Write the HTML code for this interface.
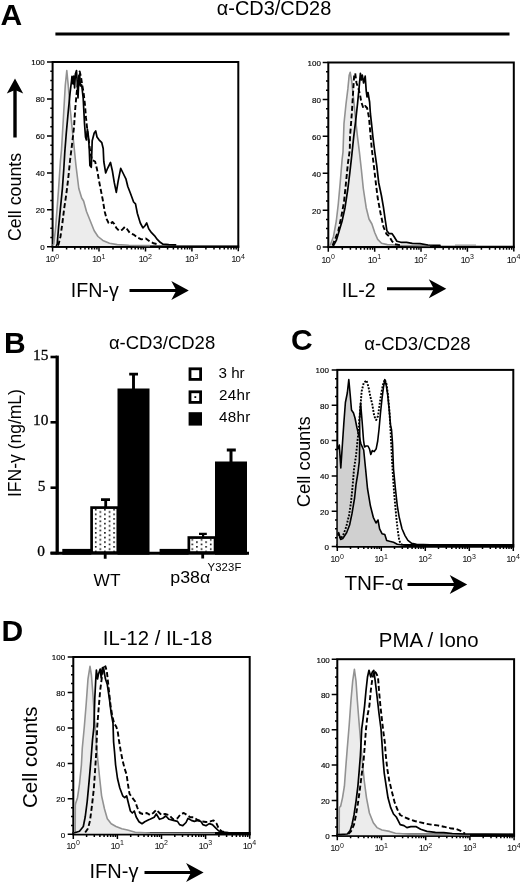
<!DOCTYPE html>
<html><head><meta charset="utf-8"><title>Figure</title>
<style>
html,body{margin:0;padding:0;background:#fff;}
svg{display:block;font-family:"Liberation Sans", sans-serif;}
text{font-family:"Liberation Sans", sans-serif;}
.b{font-weight:bold;font-size:30px;}
.ser{font-family:"Liberation Serif", serif;}
</style></head><body>
<svg width="520" height="882" viewBox="0 0 520 882">
<rect width="520" height="882" fill="#fff"/>
<defs><filter id="soft" x="0" y="0" width="520" height="882" filterUnits="userSpaceOnUse"><feGaussianBlur stdDeviation="0.4"/></filter></defs>
<g filter="url(#soft)">
<text class="b" x="0.6" y="24.5">A</text>
<text x="216.8" y="14.9" font-size="19.5" textLength="114.5" lengthAdjust="spacingAndGlyphs">α-CD3/CD28</text>
<path d="M55.4 34.1H509.5" stroke="#000" stroke-width="3"/>
<rect x="52.6" y="62.0" width="185.70000000000002" height="184.8" fill="none" stroke="#000" stroke-width="2.0"/>
<path d="M51.7 246.60H239.20000000000002" stroke="#000" stroke-width="2.4"/>
<path d="M47.0 246.8H52.6M50.3 237.6H52.6M50.3 228.3H52.6M50.3 219.1H52.6M47.0 209.8H52.6M50.3 200.6H52.6M50.3 191.4H52.6M50.3 182.1H52.6M47.0 172.9H52.6M50.3 163.6H52.6M50.3 154.4H52.6M50.3 145.2H52.6M47.0 135.9H52.6M50.3 126.7H52.6M50.3 117.4H52.6M50.3 108.2H52.6M47.0 99.0H52.6M50.3 89.7H52.6M50.3 80.5H52.6M50.3 71.2H52.6M47.0 62.0H52.6" stroke="#000" stroke-width="1.5" fill="none"/>
<path d="M52.6 246.8V251.4M66.6 246.8V249.4M74.8 246.8V249.4M80.6 246.8V249.4M85.0 246.8V249.4M88.7 246.8V249.4M91.8 246.8V249.4M94.5 246.8V249.4M96.9 246.8V249.4M99.0 246.8V251.4M113.0 246.8V249.4M121.2 246.8V249.4M127.0 246.8V249.4M131.5 246.8V249.4M135.2 246.8V249.4M138.3 246.8V249.4M141.0 246.8V249.4M143.3 246.8V249.4M145.5 246.8V251.4M159.4 246.8V249.4M167.6 246.8V249.4M173.4 246.8V249.4M177.9 246.8V249.4M181.6 246.8V249.4M184.7 246.8V249.4M187.4 246.8V249.4M189.8 246.8V249.4M191.9 246.8V251.4M205.9 246.8V249.4M214.0 246.8V249.4M219.8 246.8V249.4M224.3 246.8V249.4M228.0 246.8V249.4M231.1 246.8V249.4M233.8 246.8V249.4M236.2 246.8V249.4M238.3 246.8V251.3" stroke="#000" stroke-width="1.5" fill="none"/>
<text x="44.6" y="250.1" text-anchor="end" font-size="8" fill="#000" stroke="#000" stroke-width="0.15">0</text>
<text x="44.6" y="213.1" text-anchor="end" font-size="8" fill="#000" stroke="#000" stroke-width="0.15">20</text>
<text x="44.6" y="176.2" text-anchor="end" font-size="8" fill="#000" stroke="#000" stroke-width="0.15">40</text>
<text x="44.6" y="139.2" text-anchor="end" font-size="8" fill="#000" stroke="#000" stroke-width="0.15">60</text>
<text x="44.6" y="102.3" text-anchor="end" font-size="8" fill="#000" stroke="#000" stroke-width="0.15">80</text>
<text x="44.6" y="65.3" text-anchor="end" font-size="8" fill="#000" stroke="#000" stroke-width="0.15">100</text>
<text x="45.6" y="262.4" font-size="9.5" letter-spacing="-1" fill="#111">10<tspan font-size="7" dx="1.0" dy="-3.6">0</tspan></text>
<text x="92.0" y="262.4" font-size="9.5" letter-spacing="-1" fill="#111">10<tspan font-size="7" dx="1.0" dy="-3.6">1</tspan></text>
<text x="138.5" y="262.4" font-size="9.5" letter-spacing="-1" fill="#111">10<tspan font-size="7" dx="1.0" dy="-3.6">2</tspan></text>
<text x="184.9" y="262.4" font-size="9.5" letter-spacing="-1" fill="#111">10<tspan font-size="7" dx="1.0" dy="-3.6">3</tspan></text>
<text x="231.3" y="262.4" font-size="9.5" letter-spacing="-1" fill="#111">10<tspan font-size="7" dx="1.0" dy="-3.6">4</tspan></text>
<polygon points="52.8,246.0 52.8,245.5 53.8,244.0 55.7,227.0 58.6,188.5 60.5,160.0 61.5,150.0 63.4,117.7 65.3,85.0 66.8,70.6 68.2,85.0 70.1,108.0 72.0,127.0 74.0,146.0 75.9,165.0 78.8,188.5 81.7,198.0 83.6,201.0 86.5,211.5 90.3,221.0 94.2,230.8 98.0,236.5 102.8,240.4 109.5,243.3 117.2,244.6 128.8,245.2 150.0,245.6 150.0,246.0" fill="#ececec" stroke="none"/><polyline points="52.8,245.5 53.8,244.0 55.7,227.0 58.6,188.5 60.5,160.0 61.5,150.0 63.4,117.7 65.3,85.0 66.8,70.6 68.2,85.0 70.1,108.0 72.0,127.0 74.0,146.0 75.9,165.0 78.8,188.5 81.7,198.0 83.6,201.0 86.5,211.5 90.3,221.0 94.2,230.8 98.0,236.5 102.8,240.4 109.5,243.3 117.2,244.6 128.8,245.2 150.0,245.6" fill="none" stroke="#929292" stroke-width="1.6" stroke-linejoin="round"/>
<polyline points="56.5,245.5 57.2,244.2 58.6,227.0 60.5,207.7 62.4,188.5 63.8,169.0 64.8,152.0 66.3,133.0 68.2,112.0 70.1,92.7 71.5,81.0 72.0,76.3 73.0,84.0 73.8,76.0 74.6,88.0 75.4,74.0 76.5,70.6 77.2,82.0 78.0,98.0 78.8,80.0 79.6,74.0 80.4,86.0 81.7,85.0 83.2,98.5 84.5,123.5 85.5,137.0 86.4,140.0 87.4,129.0 88.5,137.0 89.3,150.0 89.9,165.4 91.3,167.3 92.2,140.8 94.2,133.0 95.7,131.0 97.0,137.0 99.0,139.8 101.8,142.7 103.2,148.5 103.8,161.5 105.7,173.0 107.6,168.3 110.5,162.5 112.4,171.0 114.3,182.7 116.3,192.3 118.2,180.8 120.7,168.3 123.0,173.0 125.9,178.8 127.8,186.5 130.7,194.0 133.6,202.0 135.5,203.8 137.4,213.5 140.3,223.0 142.9,227.9 144.8,226.0 146.7,223.0 148.7,228.8 151.5,232.7 154.4,235.6 157.3,239.4 160.2,242.3 163.0,244.2 168.8,244.6 175.6,244.8" fill="none" stroke="#000" stroke-width="1.7" stroke-linejoin="round" stroke-linecap="round"/>
<polyline points="58.0,245.5 58.6,244.2 60.5,236.5 62.4,223.0 64.3,207.7 66.3,194.2 68.2,178.8 70.1,160.0 72.0,144.6 74.0,127.3 75.3,108.0 76.5,94.6 78.0,82.0 79.7,71.5 81.0,77.0 82.2,85.0 83.6,92.7 84.9,104.0 86.0,117.7 87.4,131.0 88.8,140.8 90.3,152.0 92.0,160.0 95.1,161.5 97.0,169.2 99.0,180.8 100.9,190.4 102.8,200.0 104.7,211.5 106.7,219.2 108.6,223.0 110.5,224.0 112.4,222.0 114.3,224.0 116.3,227.9 119.2,230.8 122.0,229.8 124.9,226.9 126.8,228.8 129.7,232.7 133.6,234.6 137.4,237.5 141.3,239.4 145.8,238.5 149.6,241.3 153.5,243.3 159.2,244.5" fill="none" stroke="#000" stroke-width="1.9" stroke-dasharray="5 2.6" stroke-linejoin="round"/>
<path d="M15 137.5V89.1" stroke="#000" stroke-width="3.4" fill="none"/><path d="M15 78.6L6.800000000000001 93.6L15 90.1L23.2 93.6Z" fill="#000"/>
<text transform="translate(21.3,241) rotate(-90)" font-size="17.6" textLength="88.2" lengthAdjust="spacingAndGlyphs">Cell counts</text>
<text x="70.8" y="296.5" font-size="19.6">IFN-γ</text>
<path d="M129.5 290.4H177.3" stroke="#000" stroke-width="3.0" fill="none"/><path d="M188.8 290.4L171.3 280.9L176.3 290.4L171.3 299.9Z" fill="#000"/>
<rect x="328.3" y="62.5" width="185.49999999999994" height="184.6" fill="none" stroke="#000" stroke-width="2.0"/>
<path d="M327.40000000000003 246.90H514.6999999999999" stroke="#000" stroke-width="2.4"/>
<path d="M322.7 247.1H328.3M326.0 237.9H328.3M326.0 228.6H328.3M326.0 219.4H328.3M322.7 210.2H328.3M326.0 200.9H328.3M326.0 191.7H328.3M326.0 182.5H328.3M322.7 173.3H328.3M326.0 164.0H328.3M326.0 154.8H328.3M326.0 145.6H328.3M322.7 136.3H328.3M326.0 127.1H328.3M326.0 117.9H328.3M326.0 108.7H328.3M322.7 99.4H328.3M326.0 90.2H328.3M326.0 81.0H328.3M326.0 71.7H328.3M322.7 62.5H328.3" stroke="#000" stroke-width="1.5" fill="none"/>
<path d="M328.3 247.1V251.7M342.3 247.1V249.7M350.4 247.1V249.7M356.2 247.1V249.7M360.7 247.1V249.7M364.4 247.1V249.7M367.5 247.1V249.7M370.2 247.1V249.7M372.6 247.1V249.7M374.7 247.1V251.7M388.6 247.1V249.7M396.8 247.1V249.7M402.6 247.1V249.7M407.1 247.1V249.7M410.8 247.1V249.7M413.9 247.1V249.7M416.6 247.1V249.7M418.9 247.1V249.7M421.0 247.1V251.7M435.0 247.1V249.7M443.2 247.1V249.7M449.0 247.1V249.7M453.5 247.1V249.7M457.1 247.1V249.7M460.2 247.1V249.7M462.9 247.1V249.7M465.3 247.1V249.7M467.4 247.1V251.7M481.4 247.1V249.7M489.6 247.1V249.7M495.3 247.1V249.7M499.8 247.1V249.7M503.5 247.1V249.7M506.6 247.1V249.7M509.3 247.1V249.7M511.7 247.1V249.7M513.8 247.1V251.6" stroke="#000" stroke-width="1.5" fill="none"/>
<text x="320.9" y="250.4" text-anchor="end" font-size="8" fill="#000" stroke="#000" stroke-width="0.15">0</text>
<text x="320.9" y="213.5" text-anchor="end" font-size="8" fill="#000" stroke="#000" stroke-width="0.15">20</text>
<text x="320.9" y="176.6" text-anchor="end" font-size="8" fill="#000" stroke="#000" stroke-width="0.15">40</text>
<text x="320.9" y="139.6" text-anchor="end" font-size="8" fill="#000" stroke="#000" stroke-width="0.15">60</text>
<text x="320.9" y="102.7" text-anchor="end" font-size="8" fill="#000" stroke="#000" stroke-width="0.15">80</text>
<text x="320.9" y="65.8" text-anchor="end" font-size="8" fill="#000" stroke="#000" stroke-width="0.15">100</text>
<text x="321.3" y="262.7" font-size="9.5" letter-spacing="-1" fill="#111">10<tspan font-size="7" dx="1.0" dy="-3.6">0</tspan></text>
<text x="367.7" y="262.7" font-size="9.5" letter-spacing="-1" fill="#111">10<tspan font-size="7" dx="1.0" dy="-3.6">1</tspan></text>
<text x="414.0" y="262.7" font-size="9.5" letter-spacing="-1" fill="#111">10<tspan font-size="7" dx="1.0" dy="-3.6">2</tspan></text>
<text x="460.4" y="262.7" font-size="9.5" letter-spacing="-1" fill="#111">10<tspan font-size="7" dx="1.0" dy="-3.6">3</tspan></text>
<text x="506.8" y="262.7" font-size="9.5" letter-spacing="-1" fill="#111">10<tspan font-size="7" dx="1.0" dy="-3.6">4</tspan></text>
<polygon points="329.3,246.0 329.3,245.6 330.6,244.2 333.5,236.5 336.3,221.0 338.3,203.8 340.2,182.7 342.1,159.6 343.0,152.0 344.0,123.3 346.0,104.0 347.9,88.7 349.2,75.2 350.2,72.3 351.7,81.0 353.7,100.2 355.6,119.5 357.5,136.8 359.4,152.0 361.3,169.0 363.3,188.5 366.2,207.7 369.0,219.0 371.9,224.0 374.8,232.7 377.7,239.4 381.5,243.3 387.3,244.6 400.0,245.3 430.0,245.6 430.0,246.0" fill="#ececec" stroke="none"/><polyline points="329.3,245.6 330.6,244.2 333.5,236.5 336.3,221.0 338.3,203.8 340.2,182.7 342.1,159.6 343.0,152.0 344.0,123.3 346.0,104.0 347.9,88.7 349.2,75.2 350.2,72.3 351.7,81.0 353.7,100.2 355.6,119.5 357.5,136.8 359.4,152.0 361.3,169.0 363.3,188.5 366.2,207.7 369.0,219.0 371.9,224.0 374.8,232.7 377.7,239.4 381.5,243.3 387.3,244.6 400.0,245.3 430.0,245.6" fill="none" stroke="#929292" stroke-width="1.6" stroke-linejoin="round"/>
<path d="M455 245.2H476" stroke="#9b9b9b" stroke-width="1.4"/>
<polyline points="333.5,245.6 336.3,240.4 339.2,230.8 342.1,221.0 345.0,207.7 347.9,188.5 349.8,173.0 351.7,156.0 353.7,136.8 355.6,121.4 357.5,104.0 359.0,88.7 360.4,73.3 361.3,80.0 362.3,75.2 363.6,83.0 365.2,76.2 366.2,90.6 367.0,97.0 368.0,92.5 369.6,102.0 370.4,113.7 371.5,123.3 372.9,136.8 374.8,152.0 376.7,165.4 378.7,182.7 381.5,196.0 383.5,207.7 385.4,221.0 386.9,230.8 389.2,233.7 392.1,233.7 394.0,236.5 396.9,241.3 400.8,242.3 406.5,242.3 412.3,243.3 420.0,243.7 428.0,245.0 440.0,245.4" fill="none" stroke="#000" stroke-width="1.7" stroke-linejoin="round" stroke-linecap="round"/>
<polyline points="332.5,245.6 335.5,238.0 338.3,230.8 341.2,217.3 344.0,202.0 346.0,182.7 347.9,163.5 349.8,150.0 350.0,136.8 351.8,113.7 353.2,90.6 354.2,75.2 355.2,73.3 356.5,83.0 358.5,88.7 360.0,94.5 361.3,102.0 363.3,108.0 365.2,106.0 367.1,108.0 369.0,117.5 370.5,135.0 371.9,150.0 373.8,165.4 375.8,182.7 377.7,198.0 380.6,213.5 383.5,227.0 386.3,233.7 389.2,236.5 392.1,241.3 395.0,244.2 400.0,245.2" fill="none" stroke="#000" stroke-width="1.9" stroke-dasharray="5 2.6" stroke-linejoin="round"/>
<text x="341.8" y="297" font-size="19.6">IL-2</text>
<path d="M387 288.8H434.8" stroke="#000" stroke-width="3.0" fill="none"/><path d="M446.3 288.8L428.8 279.3L433.8 288.8L428.8 298.3Z" fill="#000"/>
<text class="b" x="4.1" y="353">B</text>
<text x="108.9" y="349.2" font-size="18.5">α-CD3/CD28</text>
<path d="M57.2 355.6V554.4" stroke="#000" stroke-width="3.3"/>
<path d="M50.5 553.2H249" stroke="#000" stroke-width="3.1"/>
<path d="M50.5 357H57" stroke="#000" stroke-width="2.6"/>
<text class="ser" x="48.5" y="359.9" text-anchor="end" font-size="15.4" stroke="#000" stroke-width="0.3">15</text>
<path d="M50.5 422.3H57" stroke="#000" stroke-width="2.6"/>
<text class="ser" x="48.5" y="425.2" text-anchor="end" font-size="15.4" stroke="#000" stroke-width="0.3">10</text>
<path d="M50.5 487.7H57" stroke="#000" stroke-width="2.6"/>
<text class="ser" x="45.4" y="490.6" text-anchor="end" font-size="15.4" stroke="#000" stroke-width="0.3">5</text>
<path d="M50.5 553H57" stroke="#000" stroke-width="2.6"/>
<text class="ser" x="45" y="555.9" text-anchor="end" font-size="15.4" stroke="#000" stroke-width="0.3">0</text>
<path d="M105.2 553V558.7M202.7 553V558.6" stroke="#000" stroke-width="2.8"/>
<defs><pattern id="dots" x="94.9" y="513.5" width="9.2" height="4.64" patternUnits="userSpaceOnUse"><rect width="9.2" height="4.64" fill="#fff"/><rect x="0" y="0" width="1.6" height="1.6" fill="#111"/><rect x="4.6" y="2.32" width="1.6" height="1.6" fill="#111"/></pattern></defs>
<rect x="62.3" y="548.9" width="29" height="5.8" fill="#000"/>
<rect x="91.6" y="507.6" width="26.2" height="45" fill="url(#dots)" stroke="#000" stroke-width="2.7"/>
<path d="M105.7 507V499.5M101 499.7H110" stroke="#000" stroke-width="2.8" fill="none"/>
<rect x="117.5" y="388.5" width="32" height="166.2" fill="#000"/>
<path d="M133.5 389V374M129.2 374.1H138" stroke="#000" stroke-width="2.9" fill="none"/>
<rect x="159.6" y="548.9" width="29" height="5.8" fill="#000"/>
<rect x="188.85" y="537.55" width="26.2" height="15" fill="url(#dots)" stroke="#000" stroke-width="2.7"/>
<path d="M203.1 537V534M199 533.8H206.8" stroke="#000" stroke-width="2.2" fill="none"/>
<rect x="215" y="461.5" width="32" height="93.2" fill="#000"/>
<path d="M231 462V450M226.8 450H235.8" stroke="#000" stroke-width="3" fill="none"/>
<rect x="190" y="368.8" width="10.6" height="10.6" fill="#fff" stroke="#000" stroke-width="2.8"/>
<rect x="190" y="391.8" width="10.6" height="10.6" fill="#fff" stroke="#000" stroke-width="2.8"/>
<rect x="194.4" y="396.2" width="1.8" height="1.8" fill="#000"/>
<rect x="188.6" y="412.2" width="13.4" height="13.4" fill="#000"/>
<text x="218.5" y="378" font-size="15.2">3 hr</text>
<text x="219" y="400" font-size="15.2" textLength="31.3" lengthAdjust="spacing">24hr</text>
<text x="219" y="421.8" font-size="15.2" textLength="31.3" lengthAdjust="spacing">48hr</text>
<text transform="translate(21,497) rotate(-90)" font-size="17.5">IFN-γ (ng/mL)</text>
<text x="93.6" y="585.8" font-size="17.3">WT</text>
<text x="170.3" y="583.2" font-size="17" textLength="40" lengthAdjust="spacingAndGlyphs">p38α</text>
<text x="207.6" y="571" font-size="11.3" letter-spacing="0.1">Y323F</text>
<text class="b" x="291.1" y="350">C</text>
<text x="364.3" y="349.6" font-size="18.5">α-CD3/CD28</text>
<rect x="337.3" y="369.9" width="175.99999999999994" height="176.60000000000002" fill="none" stroke="#000" stroke-width="2.0"/>
<path d="M336.40000000000003 545.70H514.1999999999999" stroke="#000" stroke-width="3.6"/>
<path d="M331.7 546.5H337.3M335.0 537.7H337.3M335.0 528.8H337.3M335.0 520.0H337.3M331.7 511.2H337.3M335.0 502.4H337.3M335.0 493.5H337.3M335.0 484.7H337.3M331.7 475.9H337.3M335.0 467.0H337.3M335.0 458.2H337.3M335.0 449.4H337.3M331.7 440.5H337.3M335.0 431.7H337.3M335.0 422.9H337.3M335.0 414.0H337.3M331.7 405.2H337.3M335.0 396.4H337.3M335.0 387.6H337.3M335.0 378.7H337.3M331.7 369.9H337.3" stroke="#000" stroke-width="1.5" fill="none"/>
<path d="M337.3 546.5V551.1M350.5 546.5V549.1M358.3 546.5V549.1M363.8 546.5V549.1M368.1 546.5V549.1M371.5 546.5V549.1M374.5 546.5V549.1M377.0 546.5V549.1M379.3 546.5V549.1M381.3 546.5V551.1M394.5 546.5V549.1M402.3 546.5V549.1M407.8 546.5V549.1M412.1 546.5V549.1M415.5 546.5V549.1M418.5 546.5V549.1M421.0 546.5V549.1M423.3 546.5V549.1M425.3 546.5V551.1M438.5 546.5V549.1M446.3 546.5V549.1M451.8 546.5V549.1M456.1 546.5V549.1M459.5 546.5V549.1M462.5 546.5V549.1M465.0 546.5V549.1M467.3 546.5V549.1M469.3 546.5V551.1M482.5 546.5V549.1M490.3 546.5V549.1M495.8 546.5V549.1M500.1 546.5V549.1M503.5 546.5V549.1M506.5 546.5V549.1M509.0 546.5V549.1M511.3 546.5V549.1M513.3 546.5V551.0" stroke="#000" stroke-width="1.5" fill="none"/>
<text x="328.9" y="549.8" text-anchor="end" font-size="8" fill="#000" stroke="#000" stroke-width="0.15">0</text>
<text x="328.9" y="514.5" text-anchor="end" font-size="8" fill="#000" stroke="#000" stroke-width="0.15">20</text>
<text x="328.9" y="479.2" text-anchor="end" font-size="8" fill="#000" stroke="#000" stroke-width="0.15">40</text>
<text x="328.9" y="443.8" text-anchor="end" font-size="8" fill="#000" stroke="#000" stroke-width="0.15">60</text>
<text x="328.9" y="408.5" text-anchor="end" font-size="8" fill="#000" stroke="#000" stroke-width="0.15">80</text>
<text x="328.9" y="373.2" text-anchor="end" font-size="8" fill="#000" stroke="#000" stroke-width="0.15">100</text>
<text x="330.3" y="562.1" font-size="9.5" letter-spacing="-1" fill="#111">10<tspan font-size="7" dx="1.0" dy="-3.6">0</tspan></text>
<text x="374.3" y="562.1" font-size="9.5" letter-spacing="-1" fill="#111">10<tspan font-size="7" dx="1.0" dy="-3.6">1</tspan></text>
<text x="418.3" y="562.1" font-size="9.5" letter-spacing="-1" fill="#111">10<tspan font-size="7" dx="1.0" dy="-3.6">2</tspan></text>
<text x="462.3" y="562.1" font-size="9.5" letter-spacing="-1" fill="#111">10<tspan font-size="7" dx="1.0" dy="-3.6">3</tspan></text>
<text x="506.3" y="562.1" font-size="9.5" letter-spacing="-1" fill="#111">10<tspan font-size="7" dx="1.0" dy="-3.6">4</tspan></text>
<polygon points="337.8,546.0 337.8,449.0 339.3,445.0 340.8,468.0 342.5,443.0 343.8,423.7 345.4,402.5 347.3,393.0 348.8,379.5 350.2,394.8 351.5,410.0 353.5,413.0 355.0,418.0 356.9,427.5 358.8,435.0 361.0,444.0 363.7,450.0 365.6,469.0 367.5,488.5 370.4,505.8 373.3,517.3 376.0,523.0 378.0,520.0 379.6,528.8 382.0,533.7 384.8,534.6 386.7,540.4 389.6,541.3 393.5,542.3 397.3,544.2 405.0,545.3 405.0,546.0" fill="#d0d0d0"/>
<polyline points="337.8,449.0 339.3,445.0 340.8,468.0 342.5,443.0 343.8,423.7 345.4,402.5 347.3,393.0 348.8,379.5 350.2,394.8 351.5,410.0 353.5,413.0 355.0,418.0 356.9,427.5 358.8,435.0 361.0,444.0 363.7,450.0 365.6,469.0 367.5,488.5 370.4,505.8 373.3,517.3 376.0,523.0 378.0,520.0 379.6,528.8 382.0,533.7 384.8,534.6 386.7,540.4 389.6,541.3 393.5,542.3 397.3,544.2 405.0,545.3" fill="none" stroke="#000" stroke-width="1.6" stroke-linejoin="round" stroke-linecap="round"/>
<polyline points="337.8,534.0 338.7,532.7 340.6,539.4 342.8,538.5 346.6,532.7 349.6,525.0 352.0,513.5 354.6,498.0 356.0,484.6 357.9,473.0 359.3,461.5 359.8,440.0 359.6,420.0 360.6,403.0 362.0,420.0 363.5,440.0 364.5,447.0 366.0,446.0 368.0,446.0 369.5,449.0 370.8,454.5 372.3,450.6 374.2,451.6 376.2,448.7 377.7,441.0 379.0,429.5 380.4,414.0 382.0,398.7 383.5,387.0 384.8,379.5 386.2,385.0 387.7,395.0 389.2,410.0 390.6,425.6 391.5,429.5 392.5,443.0 393.5,469.0 395.4,488.5 397.3,505.8 399.2,517.3 402.0,528.8 405.0,535.6 407.9,540.4 411.7,543.3 416.5,544.2 430.0,544.8 512.0,545.0" fill="none" stroke="#000" stroke-width="1.6" stroke-linejoin="round" stroke-linecap="round"/>
<polyline points="337.8,535.5 338.7,534.6 340.6,538.5 343.0,535.6 346.2,527.0 349.0,515.4 350.8,503.8 352.4,488.5 354.0,469.0 356.0,455.8 357.9,437.0 359.8,414.0 361.7,391.0 363.7,383.0 366.5,380.4 368.5,387.0 370.4,396.8 372.3,404.5 374.2,416.0 376.2,420.0 378.0,416.0 379.6,404.5 381.0,395.0 382.9,385.0 384.8,379.5 386.5,384.0 388.0,395.0 389.5,412.0 390.5,430.0 391.5,450.0 392.5,469.0 393.8,488.5 395.4,507.7 397.3,527.0 399.2,540.4 401.0,544.2 404.0,545.0" fill="none" stroke="#000" stroke-width="1.9" stroke-dasharray="1.9 1.4" stroke-linejoin="round"/>
<text transform="translate(310,507.2) rotate(-90)" font-size="17.6" textLength="90.8" lengthAdjust="spacingAndGlyphs">Cell counts</text>
<text x="344.5" y="590.3" font-size="20.5" textLength="59" lengthAdjust="spacingAndGlyphs">TNF-α</text>
<path d="M407.5 584.6H455.7" stroke="#000" stroke-width="3.0" fill="none"/><path d="M467.2 584.6L449.7 575.1L454.7 584.6L449.7 594.1Z" fill="#000"/>
<text class="b" x="1.6" y="641.2">D</text>
<text x="102.8" y="644.8" font-size="20.3">IL-12 / IL-18</text>
<rect x="73.3" y="657" width="176.39999999999998" height="177.29999999999995" fill="none" stroke="#000" stroke-width="2.0"/>
<path d="M72.39999999999999 833.60H250.6" stroke="#000" stroke-width="3.4"/>
<path d="M67.7 834.3H73.3M71.0 825.4H73.3M71.0 816.6H73.3M71.0 807.7H73.3M67.7 798.8H73.3M71.0 790.0H73.3M71.0 781.1H73.3M71.0 772.2H73.3M67.7 763.4H73.3M71.0 754.5H73.3M71.0 745.6H73.3M71.0 736.8H73.3M67.7 727.9H73.3M71.0 719.1H73.3M71.0 710.2H73.3M71.0 701.3H73.3M67.7 692.5H73.3M71.0 683.6H73.3M71.0 674.7H73.3M71.0 665.9H73.3M67.7 657.0H73.3" stroke="#000" stroke-width="1.5" fill="none"/>
<path d="M73.3 834.3V838.9M86.6 834.3V836.9M94.3 834.3V836.9M99.9 834.3V836.9M104.1 834.3V836.9M107.6 834.3V836.9M110.6 834.3V836.9M113.1 834.3V836.9M115.4 834.3V836.9M117.4 834.3V838.9M130.7 834.3V836.9M138.4 834.3V836.9M144.0 834.3V836.9M148.2 834.3V836.9M151.7 834.3V836.9M154.7 834.3V836.9M157.2 834.3V836.9M159.5 834.3V836.9M161.5 834.3V838.9M174.8 834.3V836.9M182.5 834.3V836.9M188.1 834.3V836.9M192.3 834.3V836.9M195.8 834.3V836.9M198.8 834.3V836.9M201.3 834.3V836.9M203.6 834.3V836.9M205.6 834.3V838.9M218.9 834.3V836.9M226.6 834.3V836.9M232.2 834.3V836.9M236.4 834.3V836.9M239.9 834.3V836.9M242.9 834.3V836.9M245.4 834.3V836.9M247.7 834.3V836.9M249.7 834.3V838.8" stroke="#000" stroke-width="1.5" fill="none"/>
<text x="65.1" y="837.6" text-anchor="end" font-size="8" fill="#000" stroke="#000" stroke-width="0.15">0</text>
<text x="65.1" y="802.1" text-anchor="end" font-size="8" fill="#000" stroke="#000" stroke-width="0.15">20</text>
<text x="65.1" y="766.7" text-anchor="end" font-size="8" fill="#000" stroke="#000" stroke-width="0.15">40</text>
<text x="65.1" y="731.2" text-anchor="end" font-size="8" fill="#000" stroke="#000" stroke-width="0.15">60</text>
<text x="65.1" y="695.8" text-anchor="end" font-size="8" fill="#000" stroke="#000" stroke-width="0.15">80</text>
<text x="65.1" y="660.3" text-anchor="end" font-size="8" fill="#000" stroke="#000" stroke-width="0.15">100</text>
<text x="66.3" y="848.6" font-size="9.5" letter-spacing="-1" fill="#111">10<tspan font-size="7" dx="1.0" dy="-3.6">0</tspan></text>
<text x="110.4" y="848.6" font-size="9.5" letter-spacing="-1" fill="#111">10<tspan font-size="7" dx="1.0" dy="-3.6">1</tspan></text>
<text x="154.5" y="848.6" font-size="9.5" letter-spacing="-1" fill="#111">10<tspan font-size="7" dx="1.0" dy="-3.6">2</tspan></text>
<text x="198.6" y="848.6" font-size="9.5" letter-spacing="-1" fill="#111">10<tspan font-size="7" dx="1.0" dy="-3.6">3</tspan></text>
<text x="242.7" y="848.6" font-size="9.5" letter-spacing="-1" fill="#111">10<tspan font-size="7" dx="1.0" dy="-3.6">4</tspan></text>
<polygon points="74.0,833.8 74.0,833.0 75.2,832.0 75.3,805.4 75.6,803.5 77.5,797.7 79.5,784.0 81.4,765.0 82.3,748.0 84.3,727.0 86.2,703.8 88.0,678.8 90.0,666.3 91.4,675.0 92.9,694.0 94.5,717.3 95.8,736.5 97.7,759.0 99.7,778.5 101.6,795.8 104.5,809.0 107.3,818.8 111.2,823.7 116.0,826.5 121.8,828.8 127.5,830.0 135.2,832.3 150.0,833.0 215.0,833.2 215.0,833.8" fill="#ececec" stroke="none"/><polyline points="74.0,833.0 75.2,832.0 75.3,805.4 75.6,803.5 77.5,797.7 79.5,784.0 81.4,765.0 82.3,748.0 84.3,727.0 86.2,703.8 88.0,678.8 90.0,666.3 91.4,675.0 92.9,694.0 94.5,717.3 95.8,736.5 97.7,759.0 99.7,778.5 101.6,795.8 104.5,809.0 107.3,818.8 111.2,823.7 116.0,826.5 121.8,828.8 127.5,830.0 135.2,832.3 150.0,833.0 215.0,833.2" fill="none" stroke="#929292" stroke-width="1.6" stroke-linejoin="round"/>
<polyline points="74.7,832.8 79.5,831.3 83.3,826.5 85.2,817.0 87.2,801.5 89.0,782.3 91.0,759.2 92.5,740.0 93.9,727.0 94.8,698.0 95.8,678.8 96.4,670.0 97.5,679.0 98.5,674.0 100.2,669.0 101.2,678.0 102.3,668.0 103.5,667.3 105.4,678.8 107.3,684.6 109.3,698.0 111.2,713.5 113.0,723.0 113.6,742.0 114.5,751.5 115.6,765.0 117.5,778.5 119.8,788.0 122.7,795.8 124.7,797.7 126.6,795.8 128.5,803.5 130.4,811.0 132.3,813.0 134.3,811.0 136.2,817.0 139.0,821.7 142.0,823.7 144.8,821.7 148.7,819.8 150.0,819.3 154.2,817.2 156.3,814.0 159.5,819.3 162.7,818.3 165.9,816.0 169.0,819.3 173.3,820.4 177.5,821.4 179.6,824.6 182.8,825.7 186.0,822.5 188.0,818.3 191.3,820.4 194.4,821.4 197.6,820.4 200.8,821.4 202.9,824.6 206.0,825.7 209.2,823.6 212.4,824.6 215.6,827.8 218.8,831.0 223.0,832.0 228.3,832.7 248.0,833.0" fill="none" stroke="#000" stroke-width="1.7" stroke-linejoin="round" stroke-linecap="round"/>
<polyline points="85.2,832.5 88.0,828.5 90.0,820.8 92.0,805.4 93.9,788.0 95.2,768.8 96.4,749.6 97.2,727.0 98.7,707.7 100.2,690.4 102.2,675.0 103.8,668.0 105.4,666.3 106.8,671.0 107.9,680.8 109.3,694.0 110.6,705.8 112.2,715.4 114.0,723.0 116.4,727.0 117.9,732.7 118.9,740.0 120.8,751.5 122.7,761.0 124.7,768.8 126.6,774.6 127.9,784.0 129.5,793.8 132.3,797.7 135.2,801.5 137.2,807.3 140.0,813.0 142.9,814.0 146.8,813.0 150.0,815.0 153.2,813.0 156.3,809.8 158.5,812.0 161.6,815.0 165.0,814.0 169.0,815.0 173.3,819.3 177.5,818.3 180.7,814.0 183.8,813.0 187.0,815.0 190.2,817.2 193.4,817.2 197.6,820.0 201.8,821.4 206.0,822.0 210.3,821.4 213.5,820.4 216.6,823.6 218.8,828.8 222.0,831.4 226.2,832.4" fill="none" stroke="#000" stroke-width="1.9" stroke-dasharray="5 2.6" stroke-linejoin="round"/>
<text transform="translate(37,808) rotate(-90)" font-size="20" textLength="101.5" lengthAdjust="spacingAndGlyphs">Cell counts</text>
<text x="89.5" y="878" font-size="20">IFN-γ</text>
<path d="M144.5 872.5H192.1" stroke="#000" stroke-width="3.0" fill="none"/><path d="M203.6 872.5L186.1 863.0L191.1 872.5L186.1 882.0Z" fill="#000"/>
<text x="378.8" y="646.5" font-size="20.4">PMA / Iono</text>
<rect x="337.3" y="659.2" width="176.8" height="176.5" fill="none" stroke="#000" stroke-width="2.0"/>
<path d="M336.40000000000003 835.10H515.0" stroke="#000" stroke-width="3.2"/>
<path d="M331.7 835.7H337.3M335.0 826.9H337.3M335.0 818.1H337.3M335.0 809.2H337.3M331.7 800.4H337.3M335.0 791.6H337.3M335.0 782.8H337.3M335.0 773.9H337.3M331.7 765.1H337.3M335.0 756.3H337.3M335.0 747.5H337.3M335.0 738.6H337.3M331.7 729.8H337.3M335.0 721.0H337.3M335.0 712.2H337.3M335.0 703.3H337.3M331.7 694.5H337.3M335.0 685.7H337.3M335.0 676.9H337.3M335.0 668.0H337.3M331.7 659.2H337.3" stroke="#000" stroke-width="1.5" fill="none"/>
<path d="M337.3 835.7V840.3M350.6 835.7V838.3M358.4 835.7V838.3M363.9 835.7V838.3M368.2 835.7V838.3M371.7 835.7V838.3M374.7 835.7V838.3M377.2 835.7V838.3M379.5 835.7V838.3M381.5 835.7V840.3M394.8 835.7V838.3M402.6 835.7V838.3M408.1 835.7V838.3M412.4 835.7V838.3M415.9 835.7V838.3M418.9 835.7V838.3M421.4 835.7V838.3M423.7 835.7V838.3M425.7 835.7V840.3M439.0 835.7V838.3M446.8 835.7V838.3M452.3 835.7V838.3M456.6 835.7V838.3M460.1 835.7V838.3M463.1 835.7V838.3M465.6 835.7V838.3M467.9 835.7V838.3M469.9 835.7V840.3M483.2 835.7V838.3M491.0 835.7V838.3M496.5 835.7V838.3M500.8 835.7V838.3M504.3 835.7V838.3M507.3 835.7V838.3M509.8 835.7V838.3M512.1 835.7V838.3M514.1 835.7V840.2" stroke="#000" stroke-width="1.5" fill="none"/>
<text x="329.8" y="839.0" text-anchor="end" font-size="8" fill="#000" stroke="#000" stroke-width="0.15">0</text>
<text x="329.8" y="803.7" text-anchor="end" font-size="8" fill="#000" stroke="#000" stroke-width="0.15">20</text>
<text x="329.8" y="768.4" text-anchor="end" font-size="8" fill="#000" stroke="#000" stroke-width="0.15">40</text>
<text x="329.8" y="733.1" text-anchor="end" font-size="8" fill="#000" stroke="#000" stroke-width="0.15">60</text>
<text x="329.8" y="697.8" text-anchor="end" font-size="8" fill="#000" stroke="#000" stroke-width="0.15">80</text>
<text x="329.8" y="662.5" text-anchor="end" font-size="8" fill="#000" stroke="#000" stroke-width="0.15">100</text>
<text x="330.3" y="851.3" font-size="9.5" letter-spacing="-1" fill="#111">10<tspan font-size="7" dx="1.0" dy="-3.6">0</tspan></text>
<text x="374.5" y="851.3" font-size="9.5" letter-spacing="-1" fill="#111">10<tspan font-size="7" dx="1.0" dy="-3.6">1</tspan></text>
<text x="418.7" y="851.3" font-size="9.5" letter-spacing="-1" fill="#111">10<tspan font-size="7" dx="1.0" dy="-3.6">2</tspan></text>
<text x="462.9" y="851.3" font-size="9.5" letter-spacing="-1" fill="#111">10<tspan font-size="7" dx="1.0" dy="-3.6">3</tspan></text>
<text x="507.1" y="851.3" font-size="9.5" letter-spacing="-1" fill="#111">10<tspan font-size="7" dx="1.0" dy="-3.6">4</tspan></text>
<polygon points="338.0,835.3 338.0,834.5 339.2,834.0 339.3,807.4 340.6,806.4 342.5,797.8 344.4,786.2 345.8,767.0 347.3,748.0 349.2,725.0 351.0,700.0 352.7,681.0 354.4,669.3 356.0,681.0 357.3,700.0 358.8,719.3 360.4,738.5 362.3,761.2 364.2,780.5 366.5,797.8 369.4,813.0 373.3,822.8 377.0,827.6 381.9,830.0 389.6,831.4 395.4,833.3 410.0,834.3 470.0,834.6 470.0,835.3" fill="#ececec" stroke="none"/><polyline points="338.0,834.5 339.2,834.0 339.3,807.4 340.6,806.4 342.5,797.8 344.4,786.2 345.8,767.0 347.3,748.0 349.2,725.0 351.0,700.0 352.7,681.0 354.4,669.3 356.0,681.0 357.3,700.0 358.8,719.3 360.4,738.5 362.3,761.2 364.2,780.5 366.5,797.8 369.4,813.0 373.3,822.8 377.0,827.6 381.9,830.0 389.6,831.4 395.4,833.3 410.0,834.3 470.0,834.6" fill="none" stroke="#929292" stroke-width="1.6" stroke-linejoin="round"/>
<polyline points="338.7,834.7 347.3,834.0 350.2,830.5 352.0,824.7 354.0,815.0 356.0,801.6 357.9,786.2 359.2,770.8 360.4,755.5 360.8,748.0 361.7,729.0 363.0,719.3 364.6,705.8 366.0,690.5 367.5,677.0 369.0,670.3 370.8,677.0 372.3,672.0 373.8,670.3 375.2,680.8 377.0,696.0 379.0,713.5 381.0,729.0 381.9,742.0 382.9,757.4 384.2,772.8 386.2,786.2 388.0,797.8 390.6,807.4 393.5,814.0 396.3,817.0 398.3,820.8 400.2,824.7 404.0,825.6 406.9,827.6 410.8,826.6 416.3,826.7 420.6,829.2 427.0,831.4 435.4,832.4 443.8,832.6 452.3,833.5 463.0,834.0 513.0,834.5" fill="none" stroke="#000" stroke-width="1.7" stroke-linejoin="round" stroke-linecap="round"/>
<polyline points="348.3,834.0 351.0,831.4 354.0,824.7 356.0,815.0 357.9,803.5 359.8,790.0 361.7,774.7 363.7,759.3 364.6,748.0 366.0,729.0 367.5,715.5 369.4,705.8 370.8,690.5 372.3,679.0 374.2,671.0 376.0,673.0 378.0,677.0 379.0,690.5 380.4,705.8 381.9,719.3 383.5,732.8 384.8,742.0 385.8,755.5 387.3,769.0 389.2,780.5 391.5,790.0 394.4,801.6 397.3,809.3 400.2,815.0 404.0,817.0 408.8,819.0 414.6,821.0 420.4,822.4 426.0,823.7 431.2,824.6 437.5,825.4 443.8,826.7 450.2,828.2 456.5,829.2 461.8,831.3 465.0,833.8" fill="none" stroke="#000" stroke-width="1.9" stroke-dasharray="5 2.6" stroke-linejoin="round"/>
</g>
</svg>
</body></html>
